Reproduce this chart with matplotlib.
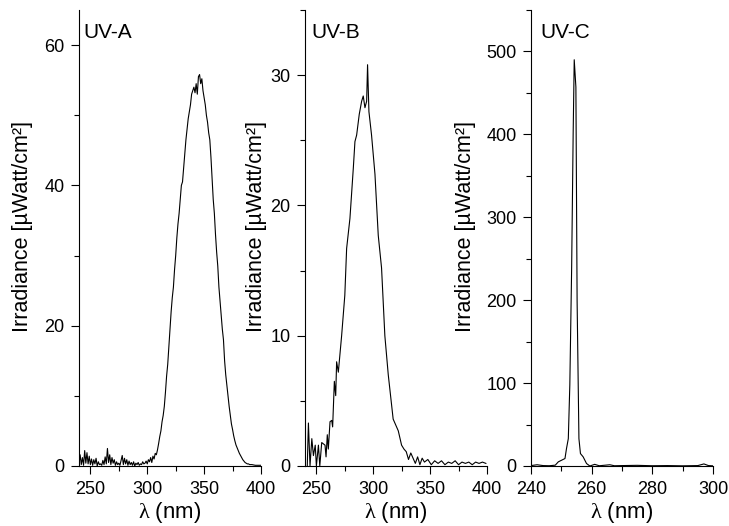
import matplotlib
matplotlib.use("Agg")
import matplotlib.pyplot as plt
from matplotlib.ticker import MultipleLocator

plt.rcParams["font.family"] = ["Liberation Sans", "DejaVu Sans"]
plt.rcParams["font.size"] = 13
plt.rcParams["mathtext.fontset"] = "custom"
plt.rcParams["mathtext.rm"] = "Liberation Serif"

# ── UV-A spectrum ─────────────────────────────────────────────────────
uva_nm = [240, 241, 242, 243, 244, 245, 246, 247, 248, 249, 250, 251, 252, 253, 254, 255,
          256, 257, 258, 259, 260, 261, 262, 263, 264, 265, 266, 267, 268, 269, 270, 271,
          272, 273, 274, 275, 276, 277, 278, 279, 280, 281, 282, 283, 284, 285, 286, 287,
          288, 289, 290, 291, 292, 293, 294, 295, 296, 297, 298, 299, 300, 301, 302, 303,
          304, 305, 306, 307, 308, 309, 310, 311, 312, 313, 314, 315, 316, 317, 318, 319,
          320, 321, 322, 323, 324, 325, 326, 327, 328, 329, 330, 331, 332, 333, 334, 335,
          336, 337, 338, 339, 340, 341, 342, 343, 344, 345, 346, 347, 348, 349, 350, 351,
          352, 353, 354, 355, 356, 357, 358, 359, 360, 361, 362, 363, 364, 365, 366, 367,
          368, 369, 370, 371, 372, 373, 374, 375, 376, 377, 378, 379, 380, 381, 382, 383,
          384, 385, 386, 387, 388, 389, 390, 392, 395, 400]
uva_val = [0.3, 1.6, 0.2, 1.2, 0.1, 2.2, 0.4, 1.9, 0.3, 1.4, 0.2, 1.0, 0.1, 0.9, 0.3, 1.1,
           0.0, 0.6, 0.2, 0.3, 0.1, 0.8, 0.2, 1.3, 0.3, 2.5, 0.5, 1.6, 0.2, 1.2, 0.4, 0.9,
           0.1, 0.6, 0.2, 0.4, 0.1, 0.8, 1.5, 0.2, 1.1, 0.3, 0.9, 0.1, 0.7, 0.2, 0.5, 0.1,
           0.6, 0.0, 0.4, 0.2, 0.5, 0.1, 0.3, 0.2, 0.6, 0.3, 0.4, 0.7, 0.3, 0.9, 0.6, 1.2,
           0.5, 1.4, 1.0, 1.8, 1.6, 2.3, 3.2, 4.2, 5.0, 6.3, 7.2, 8.5, 10.5, 12.8, 14.5, 17.0,
           19.5, 22.0, 24.0, 25.5, 28.0, 30.0, 32.5, 34.5, 36.0, 38.0, 40.0, 40.5, 42.5, 44.5, 46.5, 48.0,
           49.5, 50.5, 51.5, 53.0, 53.5, 54.0, 53.2, 54.5, 53.0, 55.5, 55.8, 54.5, 55.2, 53.5, 52.5, 51.5,
           50.0, 49.0, 47.5, 46.5, 44.0, 41.0, 38.0, 36.0, 33.0, 30.5, 28.5, 25.5, 23.5, 21.5, 19.5, 18.0,
           15.0, 13.0, 11.5, 10.0, 8.5, 7.2, 6.0, 5.2, 4.3, 3.6, 3.0, 2.6, 2.2, 1.8, 1.5, 1.2,
           0.9, 0.7, 0.5, 0.4, 0.3, 0.3, 0.2, 0.2, 0.1, 0.1]

# ── UV-B spectrum ─────────────────────────────────────────────────────
uvb_nm = [242, 243, 244.4, 246, 247.4, 249, 250, 251.8, 253, 254.7, 257.6, 258.5, 259.6,
          260.5, 262, 263.5, 264.3, 265.8, 267, 267.8, 269.3, 272.2, 275, 276.6, 279.5,
          282.5, 283.9, 285.4, 287.7, 289.8, 291.2, 292.7, 294.2, 295, 296.2, 298.5, 301.5,
          304.4, 307.3, 310.2, 313.2, 317.5, 322, 324.9, 327, 329, 331, 333, 335, 337, 339,
          341, 343, 345, 348, 351, 354, 357, 360, 363, 366, 369, 372, 375, 378, 381, 384,
          387, 390, 393, 396, 399]
uvb_val = [0.0, 3.3, 0.0, 2.1, 0.8, 1.6, 0.0, 1.6, 0.0, 1.8, 1.6, 0.7, 2.4,
           1.3, 3.4, 3.5, 3.0, 6.5, 5.4, 8.0, 7.2, 10.0, 13.1, 16.7, 19.0,
           22.9, 24.9, 25.4, 27.0, 28.0, 28.4, 27.5, 28.0, 30.8, 27.2, 25.4, 22.4,
           17.7, 15.2, 10.0, 7.0, 3.6, 2.7, 1.6, 1.3, 1.1, 0.5, 1.0, 0.6, 0.2, 0.7,
           0.1, 0.6, 0.3, 0.5, 0.1, 0.4, 0.2, 0.4, 0.1, 0.3, 0.2, 0.4, 0.1, 0.3, 0.2, 0.3,
           0.1, 0.3, 0.2, 0.3, 0.2]

# ── UV-C spectrum ─────────────────────────────────────────────────────
uvc_nm = [240, 242, 244, 246, 248, 249, 250.1, 251.2, 251.7, 252.3, 252.8, 253.4, 253.9,
          254.25, 254.8, 255.2, 255.8, 256.3, 257.2, 258.3, 259.4, 261, 262.5, 266, 267.5,
          270, 275, 280, 285, 290, 295, 297, 298.5, 300]
uvc_val = [0.5, 1.5, 0.5, 0.3, 1.0, 5.0, 7.0, 9.0, 21.0, 33.0, 98.0, 239.0, 401.0,
           490.0, 457.0, 199.0, 33.0, 15.0, 11.0, 3.0, 0.0, 2.0, 0.3, 1.5, 0.3,
           0.5, 0.8, 0.3, 0.5, 0.2, 0.5, 2.5, 0.5, 0.2]

panels = [
    # (x, y, label, xlim, xmajor, xminor, ylim, ymajor, yminor, left, labelx, textx)
    (uva_nm, uva_val, "UV-A", (240, 400), 50, 25, (0, 65), 20, 10, 79, -0.255, 0.025),
    (uvb_nm, uvb_val, "UV-B", (240, 400), 50, 25, (0, 35), 10, 5, 305, -0.21, 0.035),
    (uvc_nm, uvc_val, "UV-C", (240, 300), 20, 10, (0, 550), 100, 50, 531, -0.30, 0.05),
]

fig = plt.figure(figsize=(7.29, 5.26), dpi=100)
W, H = 729, 526

for x, y, name, xlim, xmaj, xmin, ylim, ymaj, ymin, left, labx, tx in panels:
    ax = fig.add_axes([left / W, 60 / H, 182 / W, 456 / H])
    ax.plot(x, y, color="black", linewidth=0.8)
    ax.set_xlim(*xlim)
    ax.set_ylim(*ylim)
    ax.xaxis.set_major_locator(MultipleLocator(xmaj))
    ax.xaxis.set_minor_locator(MultipleLocator(xmin))
    ax.yaxis.set_major_locator(MultipleLocator(ymaj))
    ax.yaxis.set_minor_locator(MultipleLocator(ymin))
    ax.spines["top"].set_visible(False)
    ax.spines["right"].set_visible(False)
    ax.tick_params(which="major", direction="out", length=6, width=0.8)
    ax.tick_params(which="minor", direction="out", length=3.5, width=0.8)
    ax.tick_params(axis="x", which="major", pad=4.5)
    ax.tick_params(axis="y", which="major", pad=4.5)
    ax.set_xlabel(r"$\mathrm{\lambda}$ (nm)", fontsize=16, labelpad=2)
    ax.set_ylabel("Irradiance [µWatt/cm²]", fontsize=15.5)
    ax.yaxis.set_label_coords(labx, 0.525)
    ax.text(tx, 0.95, name, transform=ax.transAxes, ha="left", va="center",
            fontsize=15)

fig.savefig("out.png", dpi=100)
